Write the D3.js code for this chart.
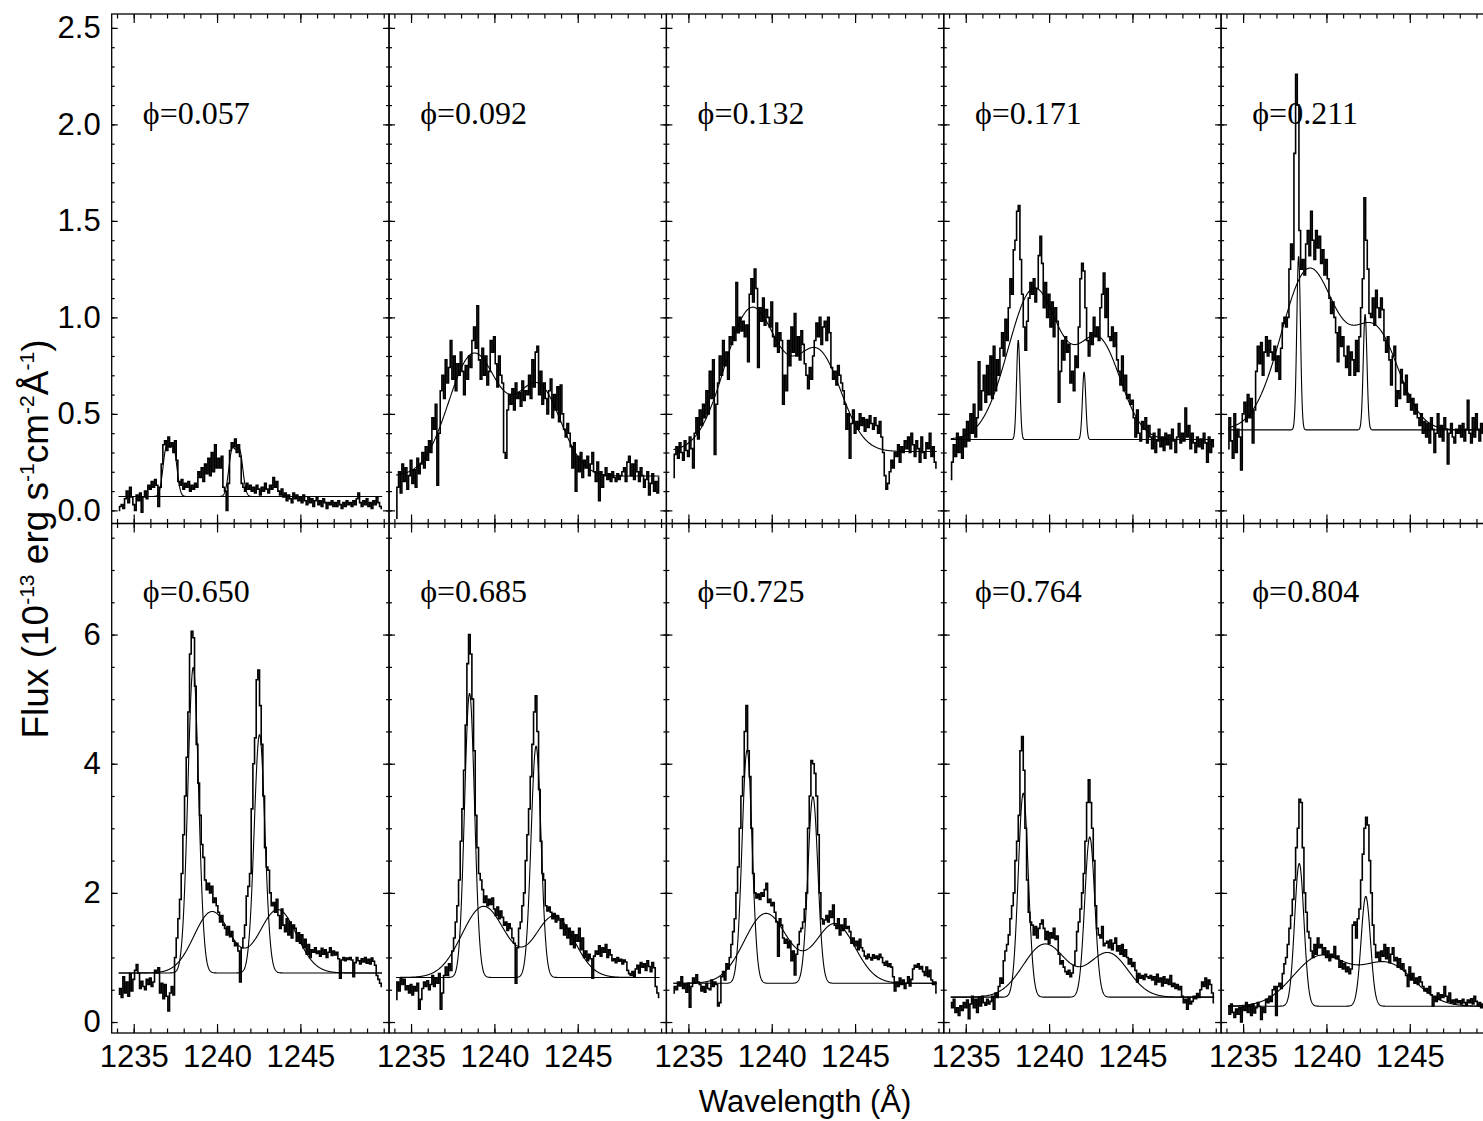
<!DOCTYPE html>
<html>
<head>
<meta charset="utf-8">
<script src="https://cdn.jsdelivr.net/npm/d3@7"></script>
<style>
  body { margin: 0; background: #fff; }
  svg { display: block; background: #fff; }
  .tick text { font-family: "Liberation Sans", Arial, Helvetica, sans-serif; font-size: 31px; fill: #000; }
  .tick line { stroke: #000; stroke-width: 1.2; }
  .domain { display: none; }
</style>
</head>
<body>
<svg id="chart" width="1483" height="1121"></svg>
<script>
// binned spectra start at 1234.1 A, one value every 0.1 A (159 bins)
const WAVE_START = 1234.1;
const WAVE_STEP = 0.1;

const phasesTop = ["0.057", "0.092", "0.132", "0.171", "0.211"];
const phasesBottom = ["0.650", "0.685", "0.725", "0.764", "0.804"];

const xMajor = [1235, 1240, 1245];

const flux0057 = [
  0.00,0.02,0.03,0.01,0.06,0.10,0.04,0.12,0.07,0.03,
  0.00,0.08,0.05,0.09,-0.01,0.07,0.10,0.06,0.13,0.11,
  0.15,0.12,0.16,0.13,0.02,0.12,0.24,0.34,0.36,0.31,
  0.38,0.33,0.35,0.30,0.36,0.26,0.15,0.13,0.16,0.11,
  0.14,0.12,0.15,0.10,0.13,0.11,0.14,0.12,0.20,0.17,
  0.22,0.15,0.24,0.19,0.27,0.18,0.30,0.20,0.34,0.22,
  0.27,0.22,0.28,0.12,0.10,0.00,0.14,0.31,0.35,0.33,
  0.37,0.30,0.34,0.28,0.14,0.12,0.10,0.14,0.11,0.13,
  0.10,0.12,0.09,0.13,0.11,0.08,0.12,0.10,0.14,0.11,
  0.09,0.13,0.11,0.17,0.12,0.15,0.10,0.08,0.11,0.07,
  0.09,0.05,0.08,0.06,0.04,0.09,0.06,0.08,0.05,0.07,
  0.04,0.08,0.05,0.03,0.07,0.04,0.06,0.02,0.05,0.07,
  0.03,0.05,0.02,0.06,0.04,0.01,0.04,0.03,0.05,0.02,
  0.04,0.02,0.05,0.03,0.01,0.04,0.02,0.05,0.03,0.04,
  0.02,0.05,0.03,0.06,0.09,0.04,0.02,0.05,0.03,0.06,
  0.02,0.04,0.01,0.05,0.03,0.07,0.04,0.02,0.01
];
const flux0092 = [
  -0.04,0.12,0.20,0.09,0.24,0.15,0.22,0.11,0.18,0.26,
  0.14,0.21,0.12,0.27,0.19,0.24,0.30,0.22,0.33,0.26,
  0.36,0.30,0.48,0.42,0.55,0.13,0.40,0.62,0.70,0.58,
  0.78,0.66,0.74,0.88,0.68,0.80,0.62,0.76,0.70,0.82,
  0.72,0.60,0.75,0.68,0.80,0.74,0.88,0.95,0.84,1.06,
  0.78,0.68,0.84,0.70,0.80,0.65,0.72,0.88,0.82,0.90,
  0.76,0.64,0.80,0.70,0.66,0.30,0.27,0.52,0.60,0.55,
  0.63,0.52,0.66,0.58,0.61,0.54,0.67,0.57,0.62,0.60,
  0.70,0.58,0.78,0.64,0.82,0.85,0.60,0.72,0.55,0.66,
  0.58,0.50,0.62,0.68,0.48,0.60,0.52,0.64,0.46,0.65,
  0.50,0.42,0.38,0.45,0.40,0.33,0.22,0.35,0.10,0.28,
  0.20,0.30,0.17,0.26,0.22,0.28,0.18,0.24,0.30,0.20,
  0.15,0.25,0.05,0.20,0.12,0.18,0.22,0.16,0.19,0.15,
  0.20,0.17,0.15,0.19,0.16,0.18,0.20,0.22,0.15,0.25,
  0.28,0.18,0.24,0.16,0.26,0.20,0.15,0.22,0.18,0.12,
  0.16,0.20,0.08,0.14,0.19,0.10,0.15,0.09,0.17
];
const flux0132 = [
  0.17,0.29,0.33,0.27,0.35,0.30,0.26,0.36,0.31,0.28,
  0.38,0.32,0.22,0.40,0.48,0.37,0.52,0.44,0.55,0.48,
  0.62,0.50,0.72,0.58,0.78,0.29,0.55,0.66,0.80,0.70,
  0.88,0.75,0.82,0.68,0.90,0.86,0.95,0.88,1.18,0.92,
  1.00,0.93,0.98,0.90,0.96,0.77,1.12,1.20,1.08,1.25,
  1.15,0.74,1.05,0.98,1.10,0.96,1.04,1.00,0.95,1.08,
  0.90,0.85,0.97,0.82,0.92,0.88,0.55,0.70,0.62,0.88,
  0.75,0.95,0.82,1.02,0.80,0.90,0.78,0.93,0.86,0.76,
  0.70,0.63,0.74,0.68,0.80,0.88,0.97,0.90,1.00,0.86,
  0.95,0.98,0.88,1.00,0.92,0.74,0.68,0.72,0.65,0.75,
  0.70,0.66,0.62,0.55,0.42,0.50,0.27,0.45,0.52,0.40,
  0.46,0.42,0.50,0.44,0.48,0.41,0.47,0.43,0.49,0.45,
  0.42,0.48,0.44,0.40,0.46,0.38,0.30,0.18,0.11,0.14,
  0.20,0.26,0.22,0.30,0.28,0.34,0.25,0.33,0.30,0.36,
  0.32,0.38,0.30,0.40,0.34,0.28,0.36,0.32,0.25,0.38,
  0.30,0.27,0.35,0.32,0.40,0.28,0.33,0.25,0.22
];
const flux0171 = [
  0.16,0.25,0.34,0.28,0.40,0.30,0.38,0.27,0.42,0.33,
  0.46,0.36,0.50,0.40,0.55,0.38,0.48,0.77,0.52,0.62,
  0.70,0.56,0.75,0.60,0.80,0.58,0.85,0.62,0.78,0.70,
  0.84,0.92,0.80,0.99,0.88,1.05,1.20,1.12,1.35,1.40,
  1.55,1.58,1.30,1.12,0.95,0.83,0.98,1.10,1.18,1.12,
  1.20,1.08,1.15,1.32,1.42,1.28,1.05,1.18,1.00,1.12,
  0.95,1.08,0.90,1.05,0.98,0.56,0.72,0.88,0.78,0.90,
  0.82,0.86,0.66,0.72,0.62,0.80,0.74,0.95,1.20,1.28,
  1.24,1.05,0.88,0.80,0.92,0.86,1.00,0.90,0.95,0.88,
  1.05,1.12,1.23,1.00,1.15,0.90,0.88,0.95,0.85,0.92,
  0.78,0.72,0.65,0.80,0.62,0.70,0.58,0.60,0.55,0.57,
  0.48,0.38,0.52,0.40,0.36,0.46,0.42,0.48,0.35,0.44,
  0.38,0.32,0.40,0.30,0.36,0.42,0.33,0.38,0.31,0.40,
  0.34,0.39,0.32,0.42,0.36,0.30,0.38,0.45,0.35,0.40,
  0.36,0.53,0.38,0.44,0.32,0.40,0.35,0.30,0.38,0.33,
  0.37,0.32,0.40,0.35,0.25,0.38,0.30,0.36,0.33
];
const flux0211 = [
  0.32,0.48,0.36,0.27,0.50,0.30,0.42,0.38,0.21,0.50,
  0.56,0.46,0.60,0.48,0.58,0.35,0.52,0.72,0.85,0.76,
  0.87,0.70,0.82,0.90,0.80,0.88,0.82,0.78,0.85,0.72,
  0.80,0.68,0.84,0.97,1.00,0.95,1.00,1.25,1.38,1.30,
  1.85,2.26,2.10,1.45,1.25,1.30,1.22,1.38,1.45,1.32,
  1.55,1.40,1.30,1.45,1.36,1.42,1.28,1.35,1.22,1.30,
  1.20,1.10,1.02,1.08,1.00,0.92,0.77,0.95,0.85,0.90,
  0.80,0.74,0.85,0.70,0.82,0.78,0.70,0.88,0.72,0.90,
  1.05,1.20,1.62,1.40,1.25,1.02,1.00,1.10,0.96,1.14,
  1.05,1.00,1.10,1.04,0.88,0.82,0.90,0.78,0.65,0.80,
  0.85,0.54,0.62,0.58,0.73,0.66,0.60,0.70,0.56,0.60,
  0.52,0.58,0.50,0.55,0.48,0.44,0.50,0.40,0.46,0.38,
  0.45,0.35,0.48,0.42,0.30,0.40,0.50,0.38,0.44,0.36,
  0.48,0.42,0.24,0.40,0.45,0.38,0.35,0.42,0.40,0.44,
  0.38,0.45,0.36,0.42,0.57,0.40,0.35,0.48,0.38,0.50,
  0.42,0.36,0.45,0.40,0.22,0.30,0.25,0.35,0.30
];
const flux0650 = [
  0.43,0.52,0.38,0.70,0.45,0.62,0.40,0.75,0.48,0.66,
  0.80,0.89,0.76,0.52,0.63,0.55,0.50,0.66,0.58,0.68,
  0.55,0.62,0.80,0.76,0.84,0.45,0.60,0.36,0.58,0.40,
  0.17,0.45,0.55,0.42,1.00,1.30,1.60,1.90,2.30,2.90,
  3.50,4.10,4.80,5.70,6.05,5.95,5.20,4.30,3.70,3.20,
  2.75,2.55,2.20,2.05,2.15,2.00,2.10,1.85,1.92,1.80,
  1.70,1.55,1.65,1.50,1.45,1.35,1.48,1.32,1.40,1.25,
  1.18,1.22,1.10,0.62,1.15,1.30,1.50,1.95,2.10,2.30,
  3.30,4.00,4.40,5.30,5.45,4.90,4.30,3.50,2.70,2.40,
  2.35,2.00,1.80,1.85,1.70,1.90,1.65,1.45,1.75,1.50,
  1.40,1.60,1.35,1.55,1.30,1.50,1.45,1.25,1.38,1.22,
  1.35,1.15,1.28,1.05,1.20,1.00,1.12,1.08,1.15,1.06,
  1.10,1.02,1.14,1.05,1.12,1.00,1.08,1.15,1.03,1.10,
  1.04,1.08,0.98,0.68,0.96,1.00,0.95,0.99,0.97,1.00,
  0.96,0.70,0.92,1.00,0.95,0.90,0.98,0.93,1.00,0.91,
  0.97,0.90,0.99,0.94,0.88,0.72,0.66,0.60,0.55
];
const flux0685 = [
  0.35,0.62,0.48,0.68,0.58,0.66,0.50,0.56,0.45,0.58,
  0.42,0.55,0.48,0.60,0.20,0.35,0.52,0.62,0.55,0.64,
  0.50,0.58,0.72,0.55,0.68,0.60,0.75,0.20,0.45,0.72,
  0.85,0.72,0.90,0.80,1.10,1.30,1.55,1.80,2.20,2.80,
  3.30,3.90,4.60,5.55,6.00,5.70,5.00,4.20,3.20,2.70,
  2.30,2.20,2.05,1.85,1.95,1.80,1.90,1.82,1.92,1.75,
  1.65,1.78,1.60,1.72,1.62,1.50,1.55,1.42,1.52,1.45,
  1.30,1.22,0.60,1.15,1.45,1.55,1.80,2.00,2.50,2.90,
  3.30,3.80,4.30,4.80,5.05,4.50,3.60,2.80,2.30,2.20,
  1.80,1.72,1.78,1.70,1.60,1.68,1.55,1.65,1.58,1.45,
  1.60,1.35,1.50,1.30,1.45,1.20,1.40,1.15,1.35,1.25,
  1.45,1.12,1.30,1.00,1.10,0.95,1.05,0.98,0.68,1.02,
  1.10,1.05,1.18,1.02,1.15,1.08,1.20,1.00,1.12,1.04,
  0.95,0.98,0.92,1.00,0.94,0.97,0.90,0.96,0.93,0.80,
  0.75,0.72,0.78,0.70,0.82,0.88,0.76,0.92,0.85,0.90,
  0.80,0.95,0.86,0.78,0.92,0.84,0.55,0.45,0.38
];
const flux0725 = [
  0.45,0.55,0.50,0.62,0.56,0.70,0.52,0.58,0.46,0.60,
  0.23,0.55,0.68,0.60,0.73,0.62,0.58,0.48,0.55,0.46,
  0.60,0.52,0.50,0.65,0.55,0.62,0.58,0.25,0.30,0.70,
  0.78,0.65,0.90,0.82,1.00,1.20,1.40,1.60,2.00,2.40,
  3.00,3.50,3.80,4.50,4.90,4.20,3.80,3.00,2.30,2.00,
  1.92,1.98,1.90,2.00,1.95,2.05,2.15,1.85,1.90,1.80,
  1.85,1.70,1.55,1.02,1.60,1.50,1.30,1.22,1.28,1.15,
  1.25,0.95,1.10,0.73,1.05,1.20,1.40,1.45,1.55,1.75,
  2.00,3.00,3.50,4.05,4.00,3.85,3.50,2.90,2.00,1.60,
  1.52,1.58,1.65,1.55,1.72,1.62,1.81,1.50,1.45,1.60,
  1.35,1.50,1.42,1.60,1.45,1.48,1.40,1.22,1.30,1.18,
  1.25,1.12,1.28,1.15,1.10,1.02,0.98,1.05,1.00,0.96,
  1.04,0.99,1.02,0.97,1.05,1.00,0.92,0.88,0.94,0.86,
  0.90,0.85,0.70,0.48,0.62,0.55,0.68,0.58,0.65,0.52,
  0.60,0.70,0.56,0.66,0.82,0.88,0.85,0.90,0.82,0.86,
  0.78,0.72,0.85,0.70,0.80,0.65,0.58,0.62,0.45
];
const flux0764 = [
  0.30,0.22,0.35,0.15,0.22,0.10,0.25,0.18,0.30,0.22,
  0.34,0.05,0.28,0.40,0.22,0.35,0.15,0.38,0.25,0.40,
  0.30,0.26,0.35,0.28,0.32,0.40,0.20,0.45,0.38,0.55,
  0.68,0.60,0.95,1.10,1.20,1.35,1.60,1.80,2.00,2.50,
  2.80,3.20,4.20,4.42,3.90,3.00,2.20,1.70,1.55,1.50,
  1.35,1.48,1.30,1.45,1.52,1.58,1.45,1.28,1.40,1.22,
  1.38,1.30,1.45,1.28,1.33,1.05,0.90,0.95,0.85,0.78,
  0.74,0.80,0.70,0.76,0.88,1.10,1.40,1.55,1.75,2.00,
  2.30,2.80,3.40,3.75,3.40,3.00,2.50,1.80,1.45,1.35,
  1.30,1.48,1.18,1.22,1.25,1.15,1.27,1.12,1.22,1.30,
  1.10,1.18,1.05,1.20,1.02,1.12,1.00,0.90,0.98,0.86,
  0.92,0.80,0.62,0.75,0.68,0.72,0.66,0.74,0.70,0.68,
  0.72,0.65,0.70,0.58,0.74,0.62,0.68,0.56,0.70,0.60,
  0.66,0.58,0.72,0.55,0.60,0.52,0.58,0.50,0.55,0.40,
  0.30,0.35,0.20,0.38,0.28,0.32,0.40,0.36,0.44,0.38,
  0.50,0.62,0.55,0.68,0.52,0.65,0.58,0.45,0.30
];
const flux0804 = [
  0.25,0.12,0.28,0.15,0.07,0.20,0.12,0.22,0.00,0.24,
  0.18,0.30,0.15,0.26,0.10,0.28,0.14,0.22,0.30,0.24,
  0.04,0.22,0.15,0.35,0.30,0.40,0.32,0.50,0.55,0.10,
  0.55,0.60,0.52,0.75,0.90,1.00,1.20,1.45,1.65,1.90,
  2.20,2.70,3.00,3.45,3.40,2.70,2.00,1.70,1.40,1.30,
  1.10,1.00,1.20,1.05,1.30,1.15,1.20,1.05,1.15,1.00,
  1.10,0.95,1.05,1.00,1.17,0.98,1.02,0.85,0.95,0.82,
  0.90,0.78,0.85,0.75,0.82,1.50,1.55,1.30,1.60,1.75,
  2.20,2.60,3.00,3.17,3.05,2.50,2.00,1.50,1.20,1.00,
  1.08,0.95,1.10,1.02,1.20,0.98,1.15,0.92,1.05,1.15,
  0.95,1.00,0.85,0.98,0.82,0.90,0.80,0.72,0.55,0.85,
  0.65,0.75,0.60,0.68,0.58,0.70,0.62,0.55,0.48,0.52,
  0.45,0.55,0.42,0.25,0.40,0.32,0.45,0.35,0.42,0.38,
  0.55,0.40,0.32,0.45,0.30,0.34,0.28,0.35,0.30,0.33,
  0.28,0.35,0.30,0.26,0.34,0.30,0.36,0.28,0.40,0.32,
  0.25,0.30,0.22,0.28,0.25,0.30,0.20,0.26,0.24
];

// fitted continuum level of each panel
const contTop = [0.072, 0.178, 0.305, 0.367, 0.417];
const contBottom = [0.76, 0.69, 0.60, 0.385, 0.245];

// fitted gaussian components [centre (A), sigma (A), peak height]
// null = curve not drawn, [] = flat continuum only
const broadTop = [
  [],
  [[1238.75, 1.5, 0.63], [1242.65, 1.35, 0.46]],
  [[1238.8, 1.6, 0.74], [1242.8, 1.38, 0.5]],
  [[1239.1, 1.55, 0.78], [1243.0, 1.3, 0.5]],
  [[1238.95, 1.65, 0.83], [1242.95, 1.4, 0.5]]
];
const narrowTop = [
  [[1236.95, 0.2, 0.24], [1237.4, 0.2, 0.24], [1240.9, 0.2, 0.23], [1241.35, 0.2, 0.23]],
  null,
  null,
  [[1238.15, 0.1, 0.515], [1242.1, 0.1, 0.35]],
  [[1238.33, 0.11, 0.9], [1242.32, 0.11, 0.6]]
];
const broadBottom = [
  [[1239.7, 1.08, 0.95], [1243.65, 1.12, 0.98]],
  [[1239.35, 1.3, 1.1], [1243.6, 1.18, 0.95]],
  [[1239.65, 1.3, 1.08], [1243.8, 1.2, 0.92]],
  [[1239.75, 1.3, 0.82], [1243.55, 1.2, 0.68]],
  [[1239.6, 1.62, 0.76], [1243.65, 1.62, 0.65]]
];
const narrowBottom = [
  [[1238.57, 0.32, 4.73], [1242.55, 0.32, 3.69]],
  [[1238.51, 0.3, 4.4], [1242.5, 0.3, 3.58]],
  [[1238.52, 0.3, 3.61], [1242.47, 0.3, 2.89]],
  [[1238.45, 0.3, 3.16], [1242.44, 0.3, 2.48]],
  [[1238.37, 0.28, 2.21], [1242.36, 0.28, 1.70]]
];

const SANS = '"Liberation Sans", Arial, Helvetica, sans-serif';
const SERIF = '"Liberation Serif", "Times New Roman", Times, serif';

const PLOT_LEFT = 111.7;
const PANEL_W = 277.35;
const PANEL_H = 509.5;
const X_DOMAIN = [1233.68, 1250.32];

const rows = [
    {
        top: 14,
        yDomain: [-0.068, 2.572],
        yMajor: [0, 0.5, 1, 1.5, 2, 2.5],
        yMinor: d3.range(0, 2.55, 0.1),
        yFormat: d3.format(".1f"),
        labelY: 2.0,
        phases: phasesTop,
        flux: [flux0057, flux0092, flux0132, flux0171, flux0211],
        cont: contTop,
        broad: broadTop,
        narrow: narrowTop,
        xLabels: false
    },
    {
        top: 14 + PANEL_H,
        yDomain: [-0.17, 7.72],
        yMajor: [0, 2, 4, 6],
        yMinor: d3.range(0, 7.6, 0.5),
        yFormat: d3.format("d"),
        labelY: 6.5,
        phases: phasesBottom,
        flux: [flux0650, flux0685, flux0725, flux0764, flux0804],
        cont: contBottom,
        broad: broadBottom,
        narrow: narrowBottom,
        xLabels: true
    }
];

const svg = d3.select("#chart");
const wave = d3.range(159).map(i => WAVE_START + i * WAVE_STEP);
const modelGrid = d3.range(1234.1, 1249.901, 0.02);

function modelCurve(cont, comps) {
    return modelGrid.map(w => ({
        w: w,
        f: cont + d3.sum(comps, c => c[2] * Math.exp(-0.5 * Math.pow((w - c[0]) / c[1], 2)))
    }));
}

rows.forEach(function(row, r) {
    row.phases.forEach(function(phase, c) {
        let left = PLOT_LEFT + c * PANEL_W;
        let x = d3.scaleLinear().domain(X_DOMAIN).range([left, left + PANEL_W]);
        let y = d3.scaleLinear().domain(row.yDomain).range([row.top + PANEL_H, row.top]);

        let g = svg.append("g");
        let clipId = "clip-" + r + "-" + c;
        g.append("clipPath").attr("id", clipId)
            .append("rect")
            .attr("x", left).attr("y", row.top)
            .attr("width", PANEL_W).attr("height", PANEL_H);

        let plot = g.append("g").attr("clip-path", "url(#" + clipId + ")");

        // observed spectrum as histogram
        let spec = wave.map((w, i) => ({w: w, f: row.flux[c][i]}));
        plot.append("path")
            .datum(spec)
            .attr("fill", "none")
            .attr("stroke", "#000")
            .attr("stroke-width", 1.6)
            .attr("d", d3.line().x(d => x(d.w)).y(d => y(d.f)).curve(d3.curveStep));

        // fitted components on top of the continuum
        let line = d3.line().x(d => x(d.w)).y(d => y(d.f));
        [row.broad[c], row.narrow[c]].forEach(function(comps) {
            if (comps === null) return;
            plot.append("path")
                .datum(modelCurve(row.cont[c], comps))
                .attr("fill", "none")
                .attr("stroke", "#000")
                .attr("stroke-width", 1.1)
                .attr("d", line);
        });

        // ticks point inwards on all four sides
        let xMinor = d3.range(1234, 1251, 1);
        g.append("g").attr("transform", "translate(0," + (row.top + PANEL_H) + ")")
            .call(d3.axisBottom(x).tickValues(xMinor).tickSize(-4.5).tickFormat(""));
        g.append("g").attr("transform", "translate(0," + (row.top + PANEL_H) + ")")
            .call(d3.axisBottom(x).tickValues(xMajor).tickSize(-9).tickPadding(12)
                .tickFormat(row.xLabels ? d3.format("d") : ""));
        g.append("g").attr("transform", "translate(0," + row.top + ")")
            .call(d3.axisTop(x).tickValues(xMinor).tickSize(-4.5).tickFormat(""));
        g.append("g").attr("transform", "translate(0," + row.top + ")")
            .call(d3.axisTop(x).tickValues(xMajor).tickSize(-9).tickFormat(""));

        g.append("g").attr("transform", "translate(" + left + ",0)")
            .call(d3.axisLeft(y).tickValues(row.yMinor).tickSize(-3).tickFormat(""));
        g.append("g").attr("transform", "translate(" + left + ",0)")
            .call(d3.axisLeft(y).tickValues(row.yMajor).tickSize(-6).tickPadding(11)
                .tickFormat(c === 0 ? row.yFormat : ""));
        g.append("g").attr("transform", "translate(" + (left + PANEL_W) + ",0)")
            .call(d3.axisRight(y).tickValues(row.yMinor).tickSize(-3).tickFormat(""));
        g.append("g").attr("transform", "translate(" + (left + PANEL_W) + ",0)")
            .call(d3.axisRight(y).tickValues(row.yMajor).tickSize(-6).tickFormat(""));

        g.append("rect")
            .attr("x", left).attr("y", row.top)
            .attr("width", PANEL_W).attr("height", PANEL_H)
            .attr("fill", "none")
            .attr("stroke", "#000")
            .attr("stroke-width", 1.3);

        g.append("text")
            .attr("x", x(1235.55))
            .attr("y", y(row.labelY))
            .style("font-family", SERIF)
            .style("font-size", "32px")
            .text("\u03d5=" + phase);
    });
});

// axis titles
svg.append("text")
    .attr("x", PLOT_LEFT + 2.5 * PANEL_W)
    .attr("y", 1112)
    .attr("text-anchor", "middle")
    .style("font-family", SANS)
    .style("font-size", "31px")
    .text("Wavelength (\u00c5)");

let ylab = svg.append("text")
    .attr("transform", "translate(48,539) rotate(-90)")
    .attr("text-anchor", "middle")
    .style("font-family", SANS)
    .style("font-size", "37px");
let parts = [["Flux (10", false], ["-13", true], [" erg s", false], ["-1", true],
             ["cm", false], ["-2", true], ["\u00c5", false], ["-1", true], [")", false]];
let raised = false;
parts.forEach(function(p) {
    let t = ylab.append("tspan").text(p[0]);
    if (p[1]) {
        t.attr("dy", raised ? 0 : -14).style("font-size", "21px");
        raised = true;
    } else {
        t.attr("dy", raised ? 14 : 0);
        raised = false;
    }
});
</script>
</body>
</html>
